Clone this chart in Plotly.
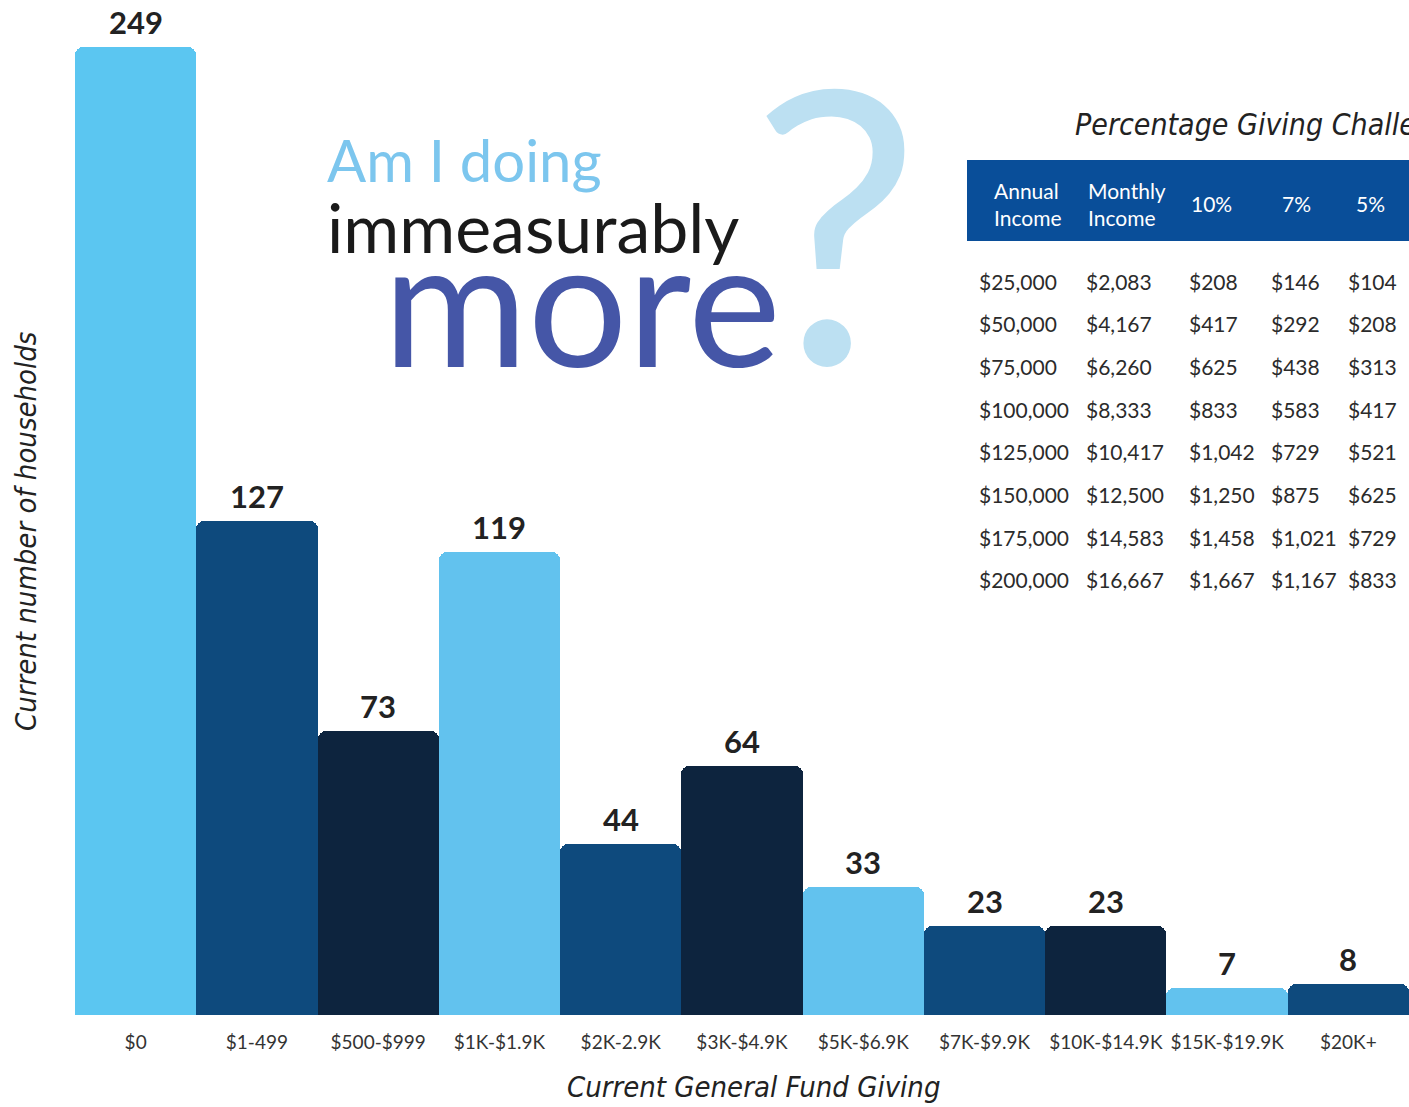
import plotly.graph_objects as go

# ---------------- data ----------------
categories = ["$0", "$1-499", "$500-$999", "$1K-$1.9K", "$2K-2.9K", "$3K-$4.9K",
              "$5K-$6.9K", "$7K-$9.9K", "$10K-$14.9K", "$15K-$19.9K", "$20K+"]
households = [249, 127, 73, 119, 44, 64, 33, 23, 23, 7, 8]

table_title = "Percentage Giving Challenge"
table_headers = ["Annual<br>Income", "Monthly<br>Income", "10%", "7%", "5%"]
annual_income = ["$25,000", "$50,000", "$75,000", "$100,000", "$125,000", "$150,000", "$175,000", "$200,000"]
monthly_income = ["$2,083", "$4,167", "$6,260", "$8,333", "$10,417", "$12,500", "$14,583", "$16,667"]
give_10 = ["$208", "$417", "$625", "$833", "$1,042", "$1,250", "$1,458", "$1,667"]
give_7 = ["$146", "$292", "$438", "$583", "$729", "$875", "$1,021", "$1,167"]
give_5 = ["$104", "$208", "$313", "$417", "$521", "$625", "$729", "$833"]

# ---------------- style ----------------
W, H = 1409, 1107
ML, MR, MT, MB = 75, 0, 4, 92
LIGHT, MID, DARK = "#62C2EE", "#0E4A7D", "#0D243E"
bar_colors = [LIGHT, MID, DARK] * 4
bar_colors = bar_colors[:len(categories)]
bar_colors[0] = "#5BC6F1"
NARROW = "Liberation Sans Narrow, DejaVu Sans Condensed, sans-serif"
LATO = "Lato, sans-serif"

def px_x(px):
    return (px - ML) / (W - ML - MR)

def px_y(py):
    return (H - MB - py) / (H - MB - MT)

fig = go.Figure()
fig.add_trace(go.Bar(
    x=categories, y=households,
    marker=dict(color=bar_colors, line=dict(width=0), cornerradius=8),
    hoverinfo="x+y",
))

ann = []
# value labels above bars
for c, v in zip(categories, households):
    ann.append(dict(x=c, y=v, xref="x", yref="y", text=f"<b>{v}</b>", showarrow=False,
                    yanchor="bottom", yshift=4,
                    font=dict(family=LATO, size=31, color="#222222")))

# axis titles
ann.append(dict(x=px_x(753), y=px_y(1087), xref="paper", yref="paper",
                text="<i>Current General Fund Giving</i>", showarrow=False,
                xanchor="center", yanchor="middle",
                font=dict(family=NARROW, size=29, color="#222222")))
ann.append(dict(x=px_x(26), y=px_y(531), xref="paper", yref="paper",
                text="<i>Current number of households</i>", showarrow=False,
                textangle=-90, xanchor="center", yanchor="middle",
                font=dict(family=NARROW, size=29, color="#222222")))

# headline graphic text
ann.append(dict(x=px_x(836), y=px_y(217), xref="paper", yref="paper", text="?",
                showarrow=False, xanchor="center", yanchor="middle",
                font=dict(family=LATO, size=380, color="#BCE0F2")))
ann.append(dict(x=px_x(325), y=px_y(159), xref="paper", yref="paper", text="Am I doing",
                showarrow=False, xanchor="left", yanchor="middle",
                font=dict(family=LATO, size=58, color="#7CC6EE")))
ann.append(dict(x=px_x(325), y=px_y(226), xref="paper", yref="paper", text="immeasurably",
                showarrow=False, xanchor="left", yanchor="middle",
                font=dict(family=LATO, size=68, color="#1A1A1A")))
ann.append(dict(x=px_x(381), y=px_y(298), xref="paper", yref="paper", text="more",
                showarrow=False, xanchor="left", yanchor="middle",
                font=dict(family=LATO, size=176, color="#4556A7")))

# table title
ann.append(dict(x=px_x(1073), y=px_y(125), xref="paper", yref="paper",
                text="<i>" + table_title + "</i>", showarrow=False,
                xanchor="left", yanchor="middle",
                font=dict(family=NARROW, size=30, color="#222222")))

# table header
header_x = [992, 1086, 1211, 1296, 1370]
header_anchor = ["left", "left", "center", "center", "center"]
for t, hx, a in zip(table_headers, header_x, header_anchor):
    ann.append(dict(x=px_x(hx), y=px_y(204), xref="paper", yref="paper", text=t,
                    showarrow=False, xanchor=a, yanchor="middle", align="left",
                    font=dict(family=LATO, size=21, color="white")))

# table rows
col_x = [977, 1084, 1187, 1269, 1346]
row_y0, row_dy = 281, 42.7
columns = [annual_income, monthly_income, give_10, give_7, give_5]
for ci, col in enumerate(columns):
    for ri, val in enumerate(col):
        ann.append(dict(x=px_x(col_x[ci]), y=px_y(row_y0 + ri * row_dy), xref="paper", yref="paper",
                        text=val, showarrow=False, xanchor="left", yanchor="middle",
                        font=dict(family=LATO, size=21, color="#2B2B2B")))

shapes = [dict(type="rect", xref="paper", yref="paper",
               x0=px_x(967), x1=px_x(1409), y0=px_y(241), y1=px_y(160),
               fillcolor="#094E99", line=dict(width=0), layer="below")]

fig.update_layout(
    width=W, height=H,
    margin=dict(l=ML, r=MR, t=MT, b=MB),
    paper_bgcolor="white", plot_bgcolor="white",
    bargap=0, showlegend=False,
    annotations=ann, shapes=shapes,
    xaxis=dict(range=[-0.5, len(categories) - 0.5], showgrid=False, zeroline=False,
               showline=False, ticks="", ticklabelstandoff=14,
               tickfont=dict(family=LATO, size=19, color="#333333")),
    yaxis=dict(range=[0, 260], showgrid=False, zeroline=False, showline=False,
               showticklabels=False, ticks=""),
)

fig.write_html("out.html", config={"displayModeBar": False},
               post_script="document.body.style.margin='0';")
